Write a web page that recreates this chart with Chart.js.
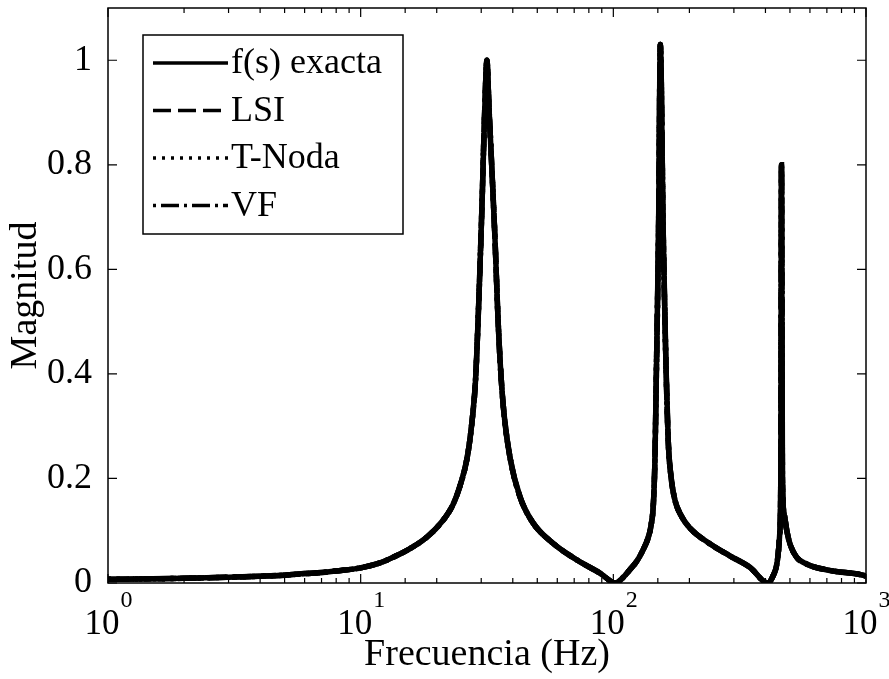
<!DOCTYPE html>
<html>
<head>
<meta charset="utf-8">
<script src="https://cdn.jsdelivr.net/npm/chart.js@4.4.0/dist/chart.umd.min.js"></script>
<style>
  html, body { margin: 0; padding: 0; background: #fff; }
  #wrap { width: 889px; height: 679px; }
</style>
</head>
<body>
<div id="wrap"><canvas id="mag-chart"></canvas></div>
<script>
// frequency (Hz) and magnitude
const freqs = [1, 1.5, 2, 3, 4, 5, 6, 7, 8, 10, 12, 13.4, 15.7, 18.3, 21.2, 23.2, 24.7, 26.4, 27.6, 28.5, 29.4, 30.2, 31.0, 31.6, 32.2, 33.0, 34.0, 35.0, 36.0, 37.0, 39.0, 42.7, 48.1, 57.7, 71.8, 88.5, 102,
  110, 116, 124, 131, 137, 141, 144, 146, 148, 151, 153.5, 157.5, 161.5, 165, 169, 175, 185, 201, 241, 289, 347, 409,
  430, 445, 455, 460, 463, 467, 475, 486, 500, 530, 584, 719, 972, 1000];
const magnitude = [0.007, 0.008, 0.009, 0.011, 0.013, 0.015, 0.018, 0.020, 0.023, 0.029, 0.039, 0.049, 0.066, 0.088, 0.120, 0.150, 0.185, 0.24, 0.31, 0.39, 0.55, 0.72, 0.91, 1.0, 0.91, 0.80, 0.66, 0.50, 0.39, 0.32, 0.24, 0.165, 0.115, 0.076, 0.044, 0.019, 0.0,
  0.012, 0.025, 0.042, 0.063, 0.085, 0.11, 0.15, 0.23, 0.40, 0.675, 1.03, 0.675, 0.42, 0.27, 0.205, 0.16, 0.13, 0.105, 0.075, 0.052, 0.03, 0.0,
  0.015, 0.04, 0.09, 0.2, 0.80, 0.2, 0.13, 0.10, 0.075, 0.05, 0.036, 0.024, 0.015, 0.013];

const seriesNames = ['f(s) exacta', 'LSI', 'T-Noda', 'VF'];
const seriesDash = [[], [18, 7], [3, 6], [3, 5, 18, 5]];
const yTicks = [0, 0.2, 0.4, 0.6, 0.8, 1];
const xTickExp = ['0', '1', '2', '3'];

const points = freqs.map((f, i) => ({ x: f, y: magnitude[i] }));
const serif = 'Liberation Serif';

// matlab-ish frame: box, inward ticks, 10^n labels and boxed legend
const framePlugin = {
  id: 'frame',
  afterDraw(chart) {
    const { ctx, chartArea: a, scales: { x, y } } = chart;
    ctx.save();
    ctx.strokeStyle = '#000';
    ctx.fillStyle = '#000';
    ctx.lineWidth = 1.5;
    ctx.strokeRect(a.left, a.top, a.right - a.left, a.bottom - a.top);

    ctx.lineWidth = 1.2;
    x.ticks.forEach(t => {
      const lg = Math.log10(t.value);
      const major = Math.abs(lg - Math.round(lg)) < 1e-9;
      const len = major ? 9 : 5;
      const px = x.getPixelForValue(t.value);
      ctx.beginPath();
      ctx.moveTo(px, a.bottom); ctx.lineTo(px, a.bottom - len);
      ctx.moveTo(px, a.top); ctx.lineTo(px, a.top + len);
      ctx.stroke();
    });
    yTicks.forEach(v => {
      const py = y.getPixelForValue(v);
      ctx.beginPath();
      ctx.moveTo(a.left, py); ctx.lineTo(a.left + 9, py);
      ctx.moveTo(a.right, py); ctx.lineTo(a.right - 9, py);
      ctx.stroke();
    });

    // 10^n labels
    ctx.textBaseline = 'alphabetic';
    ctx.textAlign = 'left';
    xTickExp.forEach(e => {
      const px = x.getPixelForValue(Math.pow(10, Number(e)));
      ctx.font = `35px "${serif}"`;
      const wBase = ctx.measureText('10').width;
      ctx.font = `24px "${serif}"`;
      const wExp = ctx.measureText(e).width;
      const start = px - (wBase + wExp) / 2;
      ctx.font = `35px "${serif}"`;
      ctx.fillText('10', start, 634);
      ctx.font = `24px "${serif}"`;
      ctx.fillText(e, start + wBase + 1, 607);
    });

    // legend
    ctx.lineWidth = 1.5;
    ctx.strokeRect(143, 35, 260, 199);
    ctx.font = `36px "${serif}"`;
    ctx.textBaseline = 'middle';
    seriesNames.forEach((name, i) => {
      const ly = 63 + i * 47.5;
      ctx.save();
      ctx.lineWidth = 3.5;
      ctx.setLineDash(seriesDash[i]);
      ctx.beginPath();
      ctx.moveTo(153, ly); ctx.lineTo(228, ly);
      ctx.stroke();
      ctx.restore();
      ctx.fillText(name, 231, ly + 1);
    });
    ctx.restore();
  }
};

new Chart('mag-chart', {
  type: 'line',
  data: {
    // dashed fits first, exact curve on top
    datasets: seriesNames.slice(1).concat(seriesNames[0]).map(name => ({
      label: name,
      data: points,
      borderColor: '#000',
      borderWidth: 5.5,
      borderDash: seriesDash[seriesNames.indexOf(name)],
      pointRadius: 0,
      fill: false,
      cubicInterpolationMode: 'monotone',
    })),
  },
  options: {
    responsive: true,
    maintainAspectRatio: false,
    animation: false,
    layout: { padding: { top: 8, right: 23, left: 0, bottom: 0 } },
    plugins: {
      legend: { display: false },
      tooltip: { enabled: false },
    },
    scales: {
      x: {
        type: 'logarithmic',
        min: 1,
        max: 1000,
        grid: { display: false },
        border: { display: false },
        ticks: { display: false },
        title: {
          display: true,
          text: 'Frecuencia (Hz)',
          color: '#000',
          font: { family: serif, size: 38 },
          padding: { top: 0, bottom: 1 },
        },
        afterFit: s => { s.height = 96; s.paddingLeft = 0; s.paddingRight = 0; },
      },
      y: {
        min: 0,
        max: 1.1,
        grid: { display: false },
        border: { display: false },
        afterBuildTicks: s => { s.ticks = yTicks.map(v => ({ value: v })); },
        ticks: {
          color: '#000',
          font: { family: serif, size: 36 },
          padding: 8,
          callback: v => String(v),
        },
        title: {
          display: true,
          text: 'Magnitud',
          color: '#000',
          font: { family: serif, size: 38 },
          padding: { top: 3, bottom: 0 },
        },
        afterFit: s => { s.width = 108; s.paddingTop = 0; s.paddingBottom = 0; },
      },
    },
  },
  plugins: [framePlugin],
});
</script>
</body>
</html>
